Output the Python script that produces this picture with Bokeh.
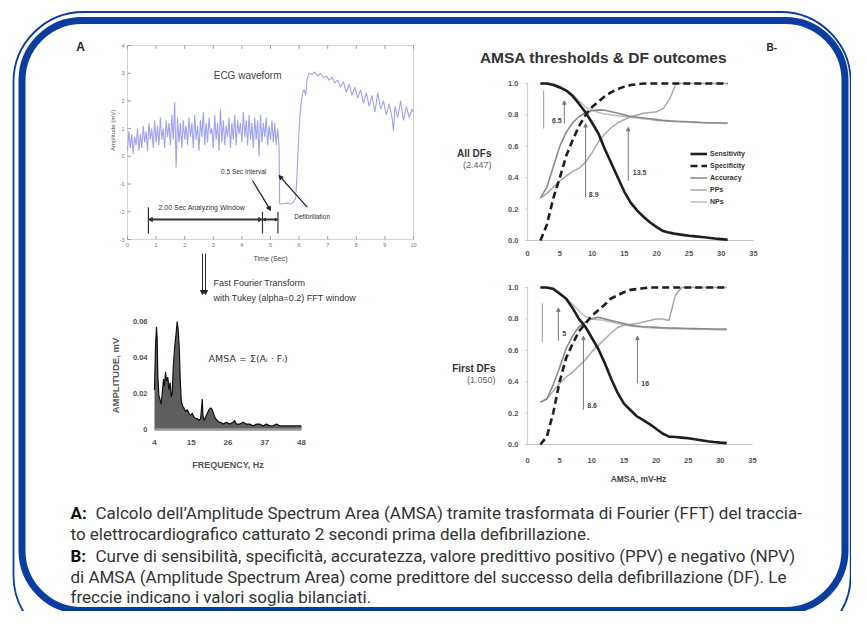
import numpy as np
from bokeh.plotting import figure
from bokeh.models import Range1d, BoxAnnotation, Arrow, NormalHead, Legend, LegendItem
from bokeh.core.properties import value
from bokeh.embed import file_html
from bokeh.resources import INLINE

# ---------------- DATA ----------------
# Panel A: ECG waveform (mV) sampled every 0.05 s from t=0 to t=5.30 s (VF before shock)
ECG_DT = 0.05
ECG_VF = [
    0.2, 0.9, 0.3, 0.8, 0.1, 0.7, 0.4, 1.0, 0.2, 0.8,
    0.3, 1.1, 0.5, 0.9, 0.2, 1.2, 0.6, 1.0, 0.3, 1.3,
    0.5, 1.1, 0.4, 1.4, 0.6, 1.0, 0.3, 1.3, 0.7, 1.2,
    0.4, 1.5, 0.6, 1.95, -0.4, 1.4, 0.5, 1.2, 0.3, 1.3,
    0.6, 1.1, 0.4, 1.4, 0.7, 1.2, 0.3, 1.5, 0.6, 1.1,
    0.2, 1.3, 0.7, 1.6, 0.4, 1.2, 0.5, 1.4, 0.8, 1.0,
    0.3, 1.5, 0.6, 1.2, 0.2, 1.7, 0.5, 1.3, 0.4, 1.1,
    0.7, 1.4, 0.3, 1.2, 0.6, 1.5, 0.4, 1.3, 0.8, 1.2,
    0.5, 1.6, 0.7, 1.3, 0.4, 1.5, 0.6, 1.2, 0.3, 1.4,
    0.6, 1.3, 0.0, 1.5, 0.5, 1.2, 0.7, 1.4, 0.4, 1.1,
    0.6, 1.3, 0.5, 1.2, 0.4, 1.0, 0.3]
# after defibrillation
ECG2_T = [5.30, 5.32, 5.40, 5.50, 5.60, 5.70, 5.80, 5.88, 5.93, 5.98,
          6.03, 6.08, 6.13, 6.18, 6.23, 6.28, 6.35, 6.45, 6.55, 6.65,
          6.75, 6.85, 6.95, 7.05, 7.15, 7.25, 7.35, 7.45, 7.55, 7.65,
          7.75, 7.85, 7.95, 8.05, 8.15, 8.25, 8.35, 8.45, 8.55, 8.65,
          8.75, 8.85, 8.95, 9.05, 9.15, 9.25, 9.30, 9.35, 9.45, 9.55,
          9.65, 9.75, 9.85, 9.95, 10.0]
ECG2_V = [0.3, -1.70, -1.72, -1.70, -1.68, -1.72, -1.66, -1.50, -0.60, 0.60,
          1.50, 2.00, 2.30, 2.40, 2.20, 2.80, 3.00, 2.95, 3.05, 2.90,
          3.00, 2.85, 2.90, 2.75, 2.85, 2.65, 2.75, 2.50, 2.70, 2.30,
          2.60, 2.20, 2.50, 2.10, 2.40, 1.90, 2.30, 1.80, 2.20, 1.60,
          2.30, 1.70, 2.00, 1.50, 1.90, 1.40, 0.90, 1.80, 1.40, 2.00,
          1.30, 1.80, 1.40, 1.70, 1.60]
ECG_XTICKS = [0, 1, 2, 3, 4, 5, 6, 7, 8, 9, 10]
ECG_YTICKS = [-3, -2, -1, 0, 1, 2, 3, 4]

# Panel A: amplitude spectrum
SPEC_F = [4.0, 4.3, 4.6, 4.8, 5.0, 5.3, 5.6, 6.0, 6.3, 6.7,
          7.0, 7.3, 7.6, 8.0, 8.3, 8.7, 9.0, 9.3, 9.6, 10.0,
          10.4, 10.8, 11.1, 11.4, 11.7, 12.0, 12.4, 12.8, 13.3, 13.8,
          14.3, 14.8, 15.3, 15.8, 16.3, 16.8, 17.3, 17.8, 18.1, 18.3,
          18.5, 18.8, 19.3, 19.8, 20.3, 20.8, 21.3, 21.8, 22.3, 22.8,
          23.3, 23.8, 24.5, 25.5, 26.5, 27.5, 28.0, 28.5, 29.5, 30.5,
          31.5, 32.5, 33.5, 34.5, 35.5, 36.5, 37.5, 38.5, 39.5, 40.5,
          41.5, 42.5, 43.5, 44.5, 45.5, 46.5, 47.5, 48.0]
SPEC_A = [0.022, 0.046, 0.057, 0.050, 0.030, 0.019, 0.017, 0.014, 0.020, 0.028,
          0.024, 0.032, 0.027, 0.029, 0.022, 0.026, 0.018, 0.020, 0.034, 0.045,
          0.052, 0.060, 0.055, 0.046, 0.028, 0.016, 0.013, 0.012, 0.010, 0.011,
          0.009, 0.008, 0.009, 0.007, 0.006, 0.006, 0.005, 0.006, 0.012, 0.017,
          0.008, 0.005, 0.007, 0.009, 0.011, 0.012, 0.011, 0.008, 0.006, 0.005,
          0.004, 0.004, 0.003, 0.004, 0.003, 0.004, 0.005, 0.003, 0.003, 0.004,
          0.003, 0.003, 0.002, 0.003, 0.003, 0.002, 0.003, 0.002, 0.002, 0.003,
          0.002, 0.002, 0.002, 0.002, 0.002, 0.002, 0.002, 0.002]
SPEC_XTICKS = [4, 15, 26, 37, 48]
SPEC_YTICKS = [0, 0.02, 0.04, 0.06]
SPEC_YLABELS = ["0", "0.02", "0.04", "0.06"]

# Panel B: AMSA thresholds (mV-Hz)
BX = [2, 3, 4, 5, 6, 7, 8, 9, 10, 11, 12, 13, 14, 15, 16,
      17, 18, 19, 20, 21, 22, 23, 24, 25, 26, 27, 28, 29, 30, 31]
B1_SENS = [1.0, 1.0, 0.99, 0.975, 0.955, 0.92, 0.87, 0.815, 0.75, 0.68,
           0.58, 0.49, 0.40, 0.31, 0.24, 0.19, 0.15, 0.115, 0.085, 0.06,
           0.05, 0.042, 0.036, 0.03, 0.026, 0.022, 0.018, 0.013, 0.009, 0.005]
B1_SPEC = [0.0, 0.10, 0.27, 0.40, 0.54, 0.64, 0.73, 0.80, 0.85, 0.885,
           0.92, 0.945, 0.965, 0.98, 0.99, 0.995, 1.0, 1.0, 1.0, 1.0,
           1.0, 1.0, 1.0, 1.0, 1.0, 1.0, 1.0, 1.0, 1.0, 1.0]
B1_ACC = [0.27, 0.34, 0.47, 0.60, 0.69, 0.75, 0.79, 0.815, 0.828, 0.832,
          0.83, 0.82, 0.81, 0.80, 0.79, 0.785, 0.78, 0.775, 0.77, 0.765,
          0.762, 0.76, 0.758, 0.756, 0.754, 0.752, 0.75, 0.75, 0.748, 0.748]
B1_PPV = [0.27, 0.30, 0.34, 0.38, 0.41, 0.44, 0.46, 0.50, 0.56, 0.63,
          0.68, 0.72, 0.75, 0.77, 0.79, 0.80, 0.81, 0.815, 0.82, 0.84,
          0.90, 1.0, 1.0, 1.0, 1.0, 1.0, 1.0, 1.0, 1.0, 1.0]
B1_NPV = [1.0, 1.0, 1.0, 0.985, 0.96, 0.93, 0.89, 0.85, 0.83, 0.815,
          0.805, 0.80, 0.795, 0.79, 0.785, 0.78, 0.775, 0.77, 0.765, 0.762,
          0.76, 0.757, 0.755, 0.753, 0.751, 0.75, 0.749, 0.748, 0.747, 0.746]
B2_SENS = [1.0, 1.0, 0.99, 0.96, 0.93, 0.87, 0.80, 0.75, 0.68, 0.61,
           0.52, 0.42, 0.33, 0.26, 0.22, 0.18, 0.155, 0.13, 0.10, 0.07,
           0.05, 0.048, 0.044, 0.04, 0.033, 0.027, 0.021, 0.016, 0.012, 0.009]
B2_SPEC = [0.0, 0.05, 0.20, 0.40, 0.55, 0.64, 0.72, 0.77, 0.82, 0.855,
           0.89, 0.93, 0.95, 0.97, 0.985, 0.99, 0.995, 1.0, 1.0, 1.0,
           1.0, 1.0, 1.0, 1.0, 1.0, 1.0, 1.0, 1.0, 1.0, 1.0]
B2_ACC = [0.27, 0.29, 0.38, 0.49, 0.61, 0.69, 0.75, 0.78, 0.80, 0.81,
          0.80, 0.79, 0.78, 0.77, 0.76, 0.755, 0.75, 0.748, 0.746, 0.744,
          0.742, 0.741, 0.74, 0.739, 0.738, 0.737, 0.737, 0.736, 0.736, 0.735]
B2_PPV = [0.27, 0.29, 0.34, 0.39, 0.43, 0.46, 0.50, 0.54, 0.59, 0.63,
          0.67, 0.71, 0.745, 0.76, 0.765, 0.77, 0.78, 0.79, 0.80, 0.80,
          0.79, 0.95, 1.0, 1.0, 1.0, 1.0, 1.0, 1.0, 1.0, 1.0]
B2_NPV = [1.0, 1.0, 1.0, 0.97, 0.93, 0.895, 0.85, 0.815, 0.80, 0.795,
          0.79, 0.78, 0.77, 0.762, 0.755, 0.75, 0.747, 0.744, 0.742, 0.74,
          0.738, 0.737, 0.736, 0.735, 0.734, 0.733, 0.732, 0.731, 0.73, 0.73]
B_XTICKS = [0, 5, 10, 15, 20, 25, 30, 35]
B_YTICKS = [0.0, 0.2, 0.4, 0.6, 0.8, 1.0]
B_YLABELS = ["0.0", "0.2", "0.4", "0.6", "0.8", "1.0"]
SERIES_NAMES = ["Sensitivity", "Specificity", "Accuracy", "PPs", "NPs"]
# threshold arrows: (x, y_tail, y_head, label, label_x, label_y, align)
B1_ARROWS = [(5.7, 0.745, 0.89, "6.5", 5.3, 0.765, "right"),
             (9.0, 0.276, 0.745, "8.9", 9.5, 0.29, "left"),
             (15.6, 0.38, 0.72, "13.5", 16.3, 0.43, "left")]
B2_ARROWS = [(4.8, 0.66, 0.87, "5", 5.4, 0.71, "left"),
             (8.7, 0.22, 0.69, "8.6", 9.3, 0.25, "left"),
             (17.1, 0.39, 0.69, "16", 17.7, 0.39, "left")]

CAPTION = [
    ("A:", "Calcolo dell\u2019Amplitude Spectrum Area (AMSA) tramite trasformata di Fourier (FFT) del traccia-"),
    ("", "to elettrocardiografico catturato 2 secondi prima della defibrillazione."),
    ("B:", "Curve di sensibilit\u00e0, specificit\u00e0, accuratezza, valore predittivo positivo (PPV) e negativo (NPV)"),
    ("", "di AMSA (Amplitude Spectrum Area) come predittore del successo della defibrillazione (DF). Le"),
    ("", "freccie indicano i valori soglia bilanciati."),
]

# ---------------- FIGURE ----------------
BLUE = "#0b3d9e"
FONT = "Liberation Sans"
L, R, T, B = 0, 851, 0, 611   # picture pixel coordinates covered by the canvas

p = figure(width=R - L, height=B - T, output_backend="svg", toolbar_location=None,
           x_range=Range1d(L, R), y_range=Range1d(B, T),
           x_axis_location=None, y_axis_location=None, min_border=0, title=None)
p.outline_line_color = None
p.xgrid.visible = False
p.ygrid.visible = False
p.background_fill_color = "white"
p.border_fill_color = "white"


def xrange_for(d0, d1, p0, p1):
    k = (d1 - d0) / (p1 - p0)
    return Range1d(d0 + (L - p0) * k, d0 + (R - p0) * k)


def yrange_for(d0, d1, p0, p1):
    k = (d1 - d0) / (p1 - p0)
    return Range1d(d0 + (B - p0) * k, d0 + (T - p0) * k)


p.extra_x_ranges = {"ex": xrange_for(0, 10, 127, 413), "sx": xrange_for(4, 48, 154, 301),
                    "b1x": xrange_for(0, 35, 527, 753), "b2x": xrange_for(0, 35, 527, 752)}
p.extra_y_ranges = {"ey": yrange_for(-3, 4, 239, 45), "sy": yrange_for(0, 0.06, 429, 321),
                    "b1y": yrange_for(0, 1, 240, 83), "b2y": yrange_for(0, 1, 444, 287)}


def txt(x, y, s, size, color="#333", style="normal", align="left", baseline="middle",
        font=FONT, angle=0.0, xr="default", yr="default", xo=0, yo=0):
    xs = x if isinstance(x, list) else [x]
    ys = y if isinstance(y, list) else [y] * len(xs)
    ss = s if isinstance(s, list) else [s] * len(xs)
    p.text(x=xs, y=ys, text=ss, text_font=value(font), text_font_size=size,
           text_color=color, text_font_style=style, text_align=align,
           text_baseline=baseline, angle=angle, x_offset=xo, y_offset=yo,
           x_range_name=xr, y_range_name=yr)


def arrow(x0, y0, x1, y1, xr="default", yr="default", color="#666", w=1.0, size=4, both=False):
    def head():
        return NormalHead(size=size, fill_color=color, line_color=color, line_width=1)
    p.add_layout(Arrow(end=head(), start=head() if both else None,
                       x_start=x0, y_start=y0, x_end=x1, y_end=y1,
                       line_color=color, line_width=w, x_range_name=xr, y_range_name=yr))


# ---- rounded double border ----
p.add_layout(BoxAnnotation(left=13, right=850.2, top=11.5, bottom=645, fill_color=None, fill_alpha=0,
                           line_color=BLUE, line_alpha=1, line_width=1.8, border_radius=70))
p.add_layout(BoxAnnotation(left=21.5, right=844.5, top=20, bottom=610, fill_color=None, fill_alpha=0,
                           line_color=BLUE, line_alpha=1, line_width=7, border_radius=60))

# ---- panel labels ----
txt(80, 46, "A", "12px", color="#222", style="bold", align="center")
txt(766, 47, "B-", "10px", color="#222", style="bold")

# ---- ECG waveform ----
E = dict(x_range_name="ex", y_range_name="ey")
p.quad(left=[0], right=[10], bottom=[-3], top=[4], fill_color=None, line_color="#d4d4d4", line_width=1, **E)
p.segment(x0=ECG_XTICKS, y0=[-3] * len(ECG_XTICKS), x1=ECG_XTICKS, y1=[-2.88] * len(ECG_XTICKS), line_color="#999", **E)
p.segment(x0=ECG_XTICKS, y0=[4] * len(ECG_XTICKS), x1=ECG_XTICKS, y1=[3.88] * len(ECG_XTICKS), line_color="#999", **E)
p.segment(x0=[0] * len(ECG_YTICKS), y0=ECG_YTICKS, x1=[0.12] * len(ECG_YTICKS), y1=ECG_YTICKS, line_color="#999", **E)
txt(ECG_XTICKS, -3, [str(v) for v in ECG_XTICKS], "5.5px", color="#777", align="center", xr="ex", yr="ey", yo=5)
txt([0] * len(ECG_YTICKS), ECG_YTICKS, [str(v) for v in ECG_YTICKS], "5.5px", color="#777", align="right",
    xr="ex", yr="ey", xo=-3)
ecg_t = np.arange(len(ECG_VF)) * ECG_DT
p.line(ecg_t, ECG_VF, line_color="#a2a2f2", line_width=1.1, **E)
p.line(ECG2_T, ECG2_V, line_color="#a2a2f2", line_width=1.1, **E)
txt(4.2, 2.92, "ECG waveform", "10px", color="#444", align="center", xr="ex", yr="ey")
txt(4.06, -0.55, "0.5 Sec Interval", "6.5px", color="#333", align="center", xr="ex", yr="ey")
arrow(4.37, -0.87, 5.0, -1.95, xr="ex", yr="ey", color="#222", w=1.2, size=4)
txt(5.83, -2.17, "Defibrillation", "6.5px", color="#333", xr="ex", yr="ey")
arrow(6.29, -1.84, 5.3, -0.69, xr="ex", yr="ey", color="#222", w=1.2, size=4)
txt(2.6, -1.84, "2.00 Sec Analyzing Window", "7px", color="#333", align="center", xr="ex", yr="ey")
arrow(0.73, -2.28, 4.72, -2.28, xr="ex", yr="ey", color="#333", w=2, size=4, both=True)
arrow(4.72, -2.28, 5.26, -2.28, xr="ex", yr="ey", color="#333", w=2, size=3, both=True)
p.segment(x0=[0.73, 4.72, 5.26], y0=[-1.84, -2.0, -2.0], x1=[0.73, 4.72, 5.26], y1=[-2.78, -2.78, -2.78],
          line_color="#333", line_width=1.2, **E)
txt(-0.49, 0.94, "Amplitude (mV)", "6px", color="#555", align="center", angle=np.pi / 2, xr="ex", yr="ey")
txt(5.0, -3, "Time (Sec)", "7px", color="#444", align="center", xr="ex", yr="ey", yo=19)

# ---- FFT note ----
arrow(202, 253, 202, 294, color="#222", w=1, size=4)
arrow(205, 253, 205, 294, color="#222", w=1, size=4)
txt(213, 282, "Fast Fourier Transform", "9px", color="#333")
txt(213, 297, "with Tukey (alpha=0.2) FFT window", "9px", color="#333")

# ---- spectrum ----
S = dict(x_range_name="sx", y_range_name="sy")
p.varea(x=SPEC_F, y1=[0] * len(SPEC_F), y2=SPEC_A, fill_color="#5e5e5e", **S)
p.line(SPEC_F, SPEC_A, line_color="#111", line_width=1.2, **S)
p.segment(x0=[4], y0=[0], x1=[48], y1=[0], line_color="#9a9a9a", line_width=2.5, **S)
txt(SPEC_XTICKS, 0, [str(v) for v in SPEC_XTICKS], "8px", color="#555", style="bold", align="center",
    xr="sx", yr="sy", yo=13)
txt([4] * len(SPEC_YTICKS), SPEC_YTICKS, SPEC_YLABELS, "7.5px", color="#555", style="bold", align="right",
    xr="sx", yr="sy", xo=-7)
txt(26, 0, "FREQUENCY, Hz", "9px", color="#555", style="bold", align="center", xr="sx", yr="sy", yo=35)
txt(-7.7, 0.030, "AMPLITUDE, mV", "9.5px", color="#555", style="bold", align="center", angle=np.pi / 2,
    xr="sx", yr="sy")
txt(208, 358, "AMSA = \u03a3(A\u1d62 \u00b7 F\u1d62)", "9.5px", color="#333", font="DejaVu Sans")

# ---- panel B ----
txt(603, 57, "AMSA thresholds & DF outcomes", "15.5px", color="#333", style="bold", align="center")
styles = [dict(line_color="#1e1e1e", line_width=2.6),
          dict(line_color="#1e1e1e", line_width=2.6, line_dash="7 4"),
          dict(line_color="#8a8a8a", line_width=1.6),
          dict(line_color="#a8a8a8", line_width=1.5),
          dict(line_color="#bdbdbd", line_width=1.5)]
panels = [("b1x", "b1y", [B1_SENS, B1_SPEC, B1_ACC, B1_PPV, B1_NPV], B1_ARROWS, 13),
          ("b2x", "b2y", [B2_SENS, B2_SPEC, B2_ACC, B2_PPV, B2_NPV], B2_ARROWS, 16)]
legend_renderers = None
for xr, yr, series, arrows, xo in panels:
    G = dict(x_range_name=xr, y_range_name=yr)
    p.segment(x0=[0], y0=[0], x1=[35], y1=[0], line_color="#c4c4c4", line_width=1.2, **G)
    p.segment(x0=[0], y0=[0], x1=[0], y1=[1], line_color="#d0d0d0", line_width=1.2, **G)
    p.segment(x0=[0] * len(B_YTICKS), y0=B_YTICKS, x1=[-0.35] * len(B_YTICKS), y1=B_YTICKS,
              line_color="#c4c4c4", **G)
    txt(B_XTICKS, 0, [str(v) for v in B_XTICKS], "7.5px", color="#555", style="bold", align="center",
        xr=xr, yr=yr, yo=xo)
    txt([0] * len(B_YTICKS), B_YTICKS, B_YLABELS, "7.5px", color="#555", style="bold", align="right",
        xr=xr, yr=yr, xo=-9)
    rs = []
    for vals, st in zip(series[::-1], styles[::-1]):
        rs.append(p.line(BX, vals, **st, **G))
    rs = rs[::-1]
    if legend_renderers is None:
        legend_renderers = rs
    for ax, y0, y1, t, tx, ty, al in arrows:
        arrow(ax, y0, ax, y1, xr=xr, yr=yr, color="#7a7a7a", w=1, size=3.5)
        txt(tx, ty, t, "7px", color="#444", style="bold", align=al, xr=xr, yr=yr)

p.segment(x0=[2.5], y0=[0.955], x1=[2.5], y1=[0.713], line_color="#9a9a9a", x_range_name="b1x", y_range_name="b1y")
p.segment(x0=[2.3], y0=[0.9], x1=[2.3], y1=[0.65], line_color="#9a9a9a", x_range_name="b2x", y_range_name="b2y")

txt(491, 153, "All DFs", "10px", color="#333", style="bold", align="right")
txt(491, 164, "(2.447)", "9px", color="#666", align="right")
txt(495, 368, "First DFs", "10px", color="#333", style="bold", align="right")
txt(495, 379, "(1.050)", "9px", color="#666", align="right")
txt(638, 478, "AMSA, mV-Hz", "8.5px", color="#444", style="bold", align="center")

legend = Legend(items=[LegendItem(label=n, renderers=[r]) for n, r in zip(SERIES_NAMES, legend_renderers)],
                location=(690 - L, B - 206), orientation="vertical",
                label_text_font=FONT, label_text_font_size="7px", label_text_font_style="bold",
                label_text_color="#333", label_height=9, glyph_height=9, glyph_width=17,
                label_standoff=3, spacing=3, padding=0, margin=0,
                border_line_color=None, background_fill_alpha=0)
p.add_layout(legend)

# ---- caption ----
CAP_BASE = [512, 533, 555.5, 576, 596.5]
for (bold, rest), yb in zip(CAPTION, CAP_BASE):
    if bold:
        txt(70, yb, bold, "17px", color="#111", style="bold", baseline="alphabetic", font="Roboto")
        txt(95, yb, rest, "17px", color="#333", baseline="alphabetic", font="Roboto")
    else:
        txt(70, yb, rest, "17px", color="#333", baseline="alphabetic", font="Roboto")

open("out.html", "w").write(file_html(p, INLINE))
